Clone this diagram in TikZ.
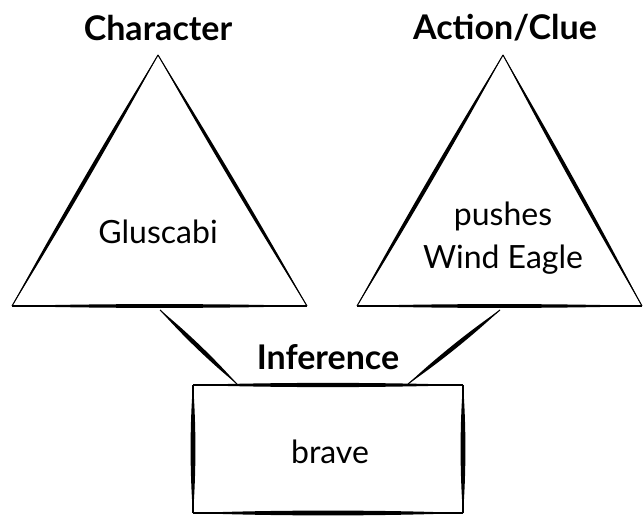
\documentclass[tikz,border=0pt]{standalone}
\usepackage{fontspec}
\setmainfont{Lato}
\usetikzlibrary{calc}
\newcommand\sketchline[3]{%
  \fill (#1) .. controls ($(#1)!0.3!(#2)!#3!90:(#2)$) and ($(#1)!0.7!(#2)!#3!90:(#2)$) .. (#2)
     .. controls ($(#1)!0.7!(#2)!#3!-90:(#2)$) and ($(#1)!0.3!(#2)!#3!-90:(#2)$) .. (#1) -- cycle;
  \draw[line width=0.8pt] (#1) -- (#2);}
\tikzset{
  headlbl/.style={font=\fontsize{25.5}{30}\selectfont\bfseries},
  bodylbl/.style={font=\fontsize{24}{32}\selectfont, align=center},
}
\begin{document}
\begin{tikzpicture}[x=0.75pt,y=-0.75pt]
\useasboundingbox (0,0) rectangle (644,517);
% left triangle
\coordinate (A1) at (158,55);
\coordinate (L1) at (12,306);
\coordinate (R1) at (307,306);
\sketchline{A1}{L1}{2pt}
\sketchline{A1}{R1}{1.8pt}
\sketchline{L1}{R1}{1.9pt}
% right triangle
\coordinate (A2) at (503,55);
\coordinate (L2) at (357,306);
\coordinate (R2) at (642,306);
\sketchline{A2}{L2}{2pt}
\sketchline{A2}{R2}{1.9pt}
\sketchline{L2}{R2}{1.9pt}
% box
\coordinate (B1) at (193,385);
\coordinate (B2) at (463,385);
\coordinate (B3) at (463,513);
\coordinate (B4) at (193,513);
\sketchline{B1}{B2}{2.1pt}
\sketchline{B2}{B3}{2.4pt}
\sketchline{B3}{B4}{2.4pt}
\sketchline{B4}{B1}{2.4pt}
% connectors
\coordinate (c1) at (160,310);
\coordinate (d1) at (237,384);
\coordinate (c2) at (500,310);
\coordinate (d2) at (408,384);
\sketchline{c1}{d1}{2.2pt}
\sketchline{c2}{d2}{2.2pt}
% labels
\node[headlbl] (hc) at (158,28) {Character};
\node[headlbl] (ha) at (505,28) {Action/Clue};
\node[headlbl] (hi) at (328,357) {Inference};
\node[bodylbl] (t1) at (158,232) {Gluscabi};
\node[bodylbl] (t2) at (503,238) {pushes\\Wind Eagle};
\node[bodylbl] (t3) at (330,452) {brave};
\end{tikzpicture}
\end{document}
